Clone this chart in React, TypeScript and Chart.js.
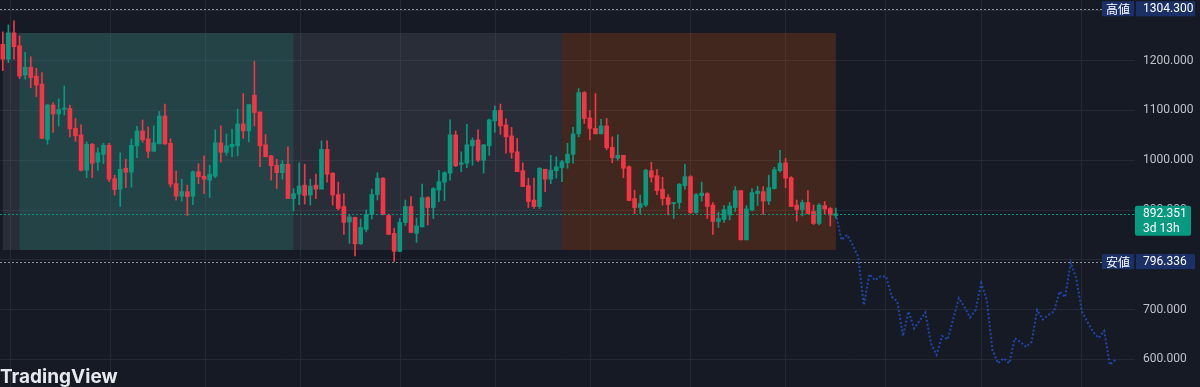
import React, { useEffect, useRef } from 'react';
import { Chart, registerables } from 'chart.js';

Chart.register(...registerables);

// ---- data ----
const opens = [
  1233, 1203, 1256, 1230, 1171, 1187, 1169, 1153, 1042, 1111, 1093, 1102, 1104, 1064, 1051, 980, 1032, 996, 1012, 1030,
  963, 942, 984, 976, 1029, 1059, 1043, 1018, 1033, 1089, 1034, 953, 928, 937, 928, 977, 968, 960, 968, 1035,
  1016, 1027, 1029, 1073, 1059, 1131, 1097, 1031, 1009, 990, 975, 992, 923, 932, 950, 930, 950, 942, 1022, 974,
  931, 907, 876, 885, 832, 861, 891, 931, 964, 889, 853, 817, 875, 907, 853, 866, 925, 905, 940, 956,
  974, 1051, 992, 994, 1029, 1041, 1000, 1029, 1079, 1100, 1071, 1049, 1017, 979, 949, 920, 907, 982, 962, 979,
  985, 995, 1012, 1053, 1136, 1085, 1064, 1053, 1069, 1026, 1004, 1010, 987, 923, 905, 910, 979, 969, 942, 925,
  913, 915, 949, 967, 895, 929, 933, 910, 877, 881, 890, 905, 939, 840, 900, 933, 937, 918, 943, 979,
  995, 965, 910, 901, 915, 897, 873, 909, 903, 889,
];
const highs = [
  1258, 1272, 1280, 1250, 1217, 1208, 1185, 1176, 1112, 1116, 1123, 1149, 1111, 1084, 1071, 1037, 1034, 1025, 1034, 1034,
  970, 1015, 1002, 1043, 1068, 1081, 1067, 1069, 1098, 1113, 1043, 978, 962, 950, 979, 993, 1009, 990, 1061, 1069,
  1053, 1062, 1103, 1134, 1112, 1199, 1097, 1052, 1010, 1002, 999, 1027, 943, 995, 992, 962, 972, 1039, 1039, 975,
  956, 933, 891, 886, 882, 900, 942, 975, 965, 892, 863, 883, 920, 927, 884, 952, 927, 945, 980, 977,
  1081, 1059, 1017, 1072, 1045, 1061, 1032, 1083, 1109, 1113, 1083, 1066, 1044, 995, 964, 964, 985, 982, 1010, 1007,
  1000, 1034, 1066, 1144, 1138, 1100, 1134, 1082, 1084, 1047, 1051, 1010, 989, 940, 930, 982, 996, 982, 966, 931,
  915, 953, 992, 969, 933, 956, 935, 915, 896, 909, 915, 947, 939, 909, 943, 948, 947, 970, 986, 1020,
  1004, 967, 920, 920, 939, 910, 913, 917, 905, 904,
];
const lows = [
  1180, 1196, 1203, 1164, 1163, 1146, 1128, 1044, 1032, 1056, 1069, 1091, 1047, 1038, 978, 965, 965, 980, 993, 957,
  930, 907, 945, 946, 1005, 1036, 1005, 1018, 1033, 1032, 946, 920, 918, 889, 911, 953, 933, 925, 965, 996,
  1010, 1007, 1009, 1044, 1037, 1069, 987, 1007, 960, 943, 962, 923, 898, 911, 912, 910, 923, 942, 956, 910,
  900, 851, 833, 808, 831, 856, 882, 920, 890, 851, 796.336, 816, 869, 855, 835, 866, 870, 883, 917, 919,
  960, 987, 977, 985, 990, 997, 974, 1010, 1056, 1052, 1014, 1004, 977, 947, 905, 903, 903, 937, 953, 964,
  957, 984, 994, 1047, 1074, 1041, 1053, 1053, 1021, 995, 1000, 965, 919, 893, 893, 907, 956, 931, 910, 890,
  883, 903, 942, 893, 893, 918, 883, 851, 865, 875, 880, 897, 840, 840, 898, 909, 891, 911, 942, 976,
  945, 907, 878, 888, 893, 871, 870, 891, 868, 884,
];
const closes = [
  1203, 1256, 1228, 1169, 1187, 1166, 1151, 1044, 1111, 1093, 1102, 1105, 1063, 1049, 980, 1032, 994, 1015, 1030, 962,
  941, 982, 976, 1030, 1059, 1041, 1018, 1035, 1089, 1033, 952, 928, 937, 927, 977, 967, 962, 972, 1035, 1016,
  1029, 1032, 1073, 1059, 1112, 1096, 1029, 1007, 989, 975, 992, 923, 933, 948, 929, 948, 942, 1022, 972, 930,
  903, 875, 886, 832, 865, 891, 931, 964, 891, 851, 817, 875, 907, 855, 868, 925, 905, 943, 957, 975,
  1051, 989, 995, 1031, 1040, 1000, 1031, 1081, 1100, 1069, 1047, 1016, 977, 947, 917, 907, 984, 962, 980, 987,
  997, 1012, 1053, 1136, 1084, 1064, 1053, 1069, 1025, 1005, 1010, 984, 919, 905, 913, 980, 966, 939, 923, 911,
  915, 952, 967, 895, 931, 934, 907, 877, 883, 901, 908, 939, 840, 902, 935, 938, 918, 945, 981, 994,
  964, 907, 901, 915, 893, 873, 910, 902, 890, 892.351,
];

const forecastStart = 149;
const forecast = [
  892.351, 840, 850, 830, 806, 709, 771, 759, 767, 766, 726, 716, 647, 696, 662, 678, 694, 632, 609, 647,
  640, 682, 723, 705, 684, 699, 753, 719, 619, 592, 602, 592, 642, 635, 625, 635, 699, 680, 689, 696,
  736, 725, 794, 763, 696, 675, 655, 643, 657, 589, 599,
];

const slotCount = 203;
const timeGridIdx = [1.3, 19.2, 36.2, 53.2, 71, 88, 105, 122.9, 139.9, 157.8, 175, 192.8];
const yTicks = [600, 700, 800, 900, 1000, 1100, 1200, 1300];
const yMin = 544.4;
const yMax = 1322;

const highValue = 1304.3;
const lowValue = 796.336;
const lastPrice = 892.351;
const countdown = '3d 13h';
const highText = '高値';
const lowText = '安値';
const brandText = 'TradingView';

const zoneStart = [0, 3, 100];
const zoneEnd = [100, 52, 149];
const zoneTop = 1255.7;
const zoneBottom = 819.6;

// ---- styles ----
const BG = '#161A25';
const GRID = '#252935';
const UP = '#089981';
const DOWN = '#F23645';
const ZONE_COLORS = ['rgba(120,123,134,0.2)', 'rgba(8,153,129,0.2)', 'rgba(247,96,7,0.2)'];
const LABEL_BLUE = '#1C3068';
const AXIS_TEXT = '#BFC2CA';

const overlayPlugin = {
  id: 'overlay',
  beforeDatasetsDraw(chart: any) {
    const { ctx, scales, chartArea } = chart;
    const xs = scales.x;
    const ys = scales.y;
    ctx.save();
    // vertical time grid
    const x0 = xs.getPixelForValue(0);
    const slot = xs.getPixelForValue(1) - x0;
    ctx.strokeStyle = GRID;
    ctx.lineWidth = 1;
    for (const v of timeGridIdx) {
      const px = Math.round(x0 + v * slot) + 0.5;
      ctx.beginPath();
      ctx.moveTo(px, chartArea.top);
      ctx.lineTo(px, chartArea.bottom);
      ctx.stroke();
    }
    // zones
    for (let i = 0; i < zoneStart.length; i++) {
      const x1 = xs.getPixelForValue(zoneStart[i]);
      const x2 = xs.getPixelForValue(zoneEnd[i]);
      const y1 = ys.getPixelForValue(zoneTop);
      const y2 = ys.getPixelForValue(zoneBottom);
      ctx.fillStyle = ZONE_COLORS[i];
      ctx.fillRect(x1, y1, x2 - x1, y2 - y1);
    }
    ctx.restore();
  },
  afterDraw(chart: any) {
    const { ctx, scales, chartArea } = chart;
    const ys = scales.y;
    ctx.save();
    const fmt = (v: number) => v.toFixed(3);
    const labelLeft = chartArea.right + 1;
    const tagLeft = labelLeft - 34;

    const dotted = (v: number, color: string, x2: number, w: number) => {
      const y = Math.round(ys.getPixelForValue(v)) + 0.5;
      ctx.beginPath();
      ctx.setLineDash([2, 2]);
      ctx.strokeStyle = color;
      ctx.lineWidth = w;
      ctx.moveTo(0, y);
      ctx.lineTo(x2, y);
      ctx.stroke();
    };
    dotted(highValue, '#8E919B', tagLeft, 1);
    dotted(lowValue, '#8E919B', tagLeft, 1);
    dotted(lastPrice, UP, chartArea.right, 1);
    ctx.setLineDash([]);

    const tag = (v: number, name: string) => {
      const yc = ys.getPixelForValue(v);
      ctx.fillStyle = LABEL_BLUE;
      ctx.fillRect(tagLeft, yc - 7.5, 32, 15);
      ctx.fillRect(labelLeft, yc - 7.5, 59, 15);
      ctx.fillStyle = '#FFFFFF';
      ctx.textBaseline = 'middle';
      ctx.textAlign = 'center';
      ctx.font = '12px "Noto Sans CJK JP"';
      ctx.fillText(name, tagLeft + 16, yc + 0.5);
      ctx.textAlign = 'left';
      ctx.font = '12px Roboto';
      ctx.fillText(fmt(v), chartArea.right + 8, yc + 0.5);
    };
    tag(highValue, highText);
    tag(lowValue, lowText);

    const yp = ys.getPixelForValue(lastPrice);
    ctx.fillStyle = UP;
    ctx.beginPath();
    ctx.roundRect(chartArea.right, yp - 8, 56, 30, 2);
    ctx.fill();
    ctx.fillStyle = '#FFFFFF';
    ctx.textAlign = 'left';
    ctx.textBaseline = 'middle';
    ctx.font = '12px Roboto';
    ctx.fillText(fmt(lastPrice), chartArea.right + 8, yp);
    ctx.fillText(countdown, chartArea.right + 8, yp + 15);

    ctx.font = 'bold 19px Inter';
    ctx.fillStyle = '#E6E8EE';
    ctx.textBaseline = 'alphabetic';
    ctx.fillText(brandText, 0, 383);
    ctx.restore();
  },
};

export default function App() {
  const ref = useRef<HTMLCanvasElement>(null);
  useEffect(() => {
    if (!ref.current) return;
    const labels = Array.from({ length: slotCount }, (_, i) => String(i));
    const colors = opens.map((o, i) => (closes[i] >= o ? UP : DOWN));
    const bodies = opens.map((o, i) => [Math.min(o, closes[i]), Math.max(o, closes[i])]);
    const wicks = lows.map((l, i) => [l, highs[i]]);
    const lineData: (number | null)[] = Array.from({ length: slotCount }, () => null);
    forecast.forEach((v, k) => {
      lineData[forecastStart + k] = v;
    });

    const zeroPad = (s: any) => {
      s.paddingTop = 0;
      s.paddingBottom = 0;
      s.paddingLeft = 0;
      s.paddingRight = 0;
    };

    const chart = new Chart(ref.current, {
      type: 'bar',
      data: {
        labels,
        datasets: [
          {
            type: 'bar',
            data: bodies as any,
            backgroundColor: colors,
            barThickness: 4,
            minBarLength: 1,
            grouped: false,
            borderWidth: 0,
          } as any,
          {
            type: 'bar',
            data: wicks as any,
            backgroundColor: colors,
            barThickness: 1,
            grouped: false,
            borderWidth: 0,
          } as any,
          {
            type: 'line',
            data: lineData,
            borderColor: 'rgba(41,98,255,0.6)',
            borderWidth: 2,
            borderDash: [2, 2],
            pointRadius: 0,
            tension: 0,
            spanGaps: false,
          } as any,
        ],
      },
      options: {
        animation: false,
        responsive: false,
        devicePixelRatio: 1,
        layout: { padding: 0 },
        plugins: { legend: { display: false }, tooltip: { enabled: false }, title: { display: false } },
        scales: {
          x: { type: 'category', display: false, offset: true },
          y: {
            position: 'right',
            min: yMin,
            max: yMax,
            afterBuildTicks: (axis: any) => {
              axis.ticks = yTicks.map((v) => ({ value: v }));
            },
            ticks: {
              color: AXIS_TEXT,
              padding: 8,
              font: { family: 'Roboto', size: 12 },
              callback: (v: any) => Number(v).toFixed(3),
            },
            grid: { color: GRID, drawTicks: false },
            border: { display: false },
            afterFit: (s: any) => {
              s.width = 65;
              zeroPad(s);
            },
          },
        } as any,
      },
      plugins: [overlayPlugin],
    });
    return () => chart.destroy();
  }, []);

  return (
    <div style={{ position: 'fixed', left: 0, top: 0, width: 1200, height: 387, background: BG, overflow: 'hidden' }}>
      <canvas ref={ref} width={1200} height={387} style={{ display: 'block' }} />
    </div>
  );
}
